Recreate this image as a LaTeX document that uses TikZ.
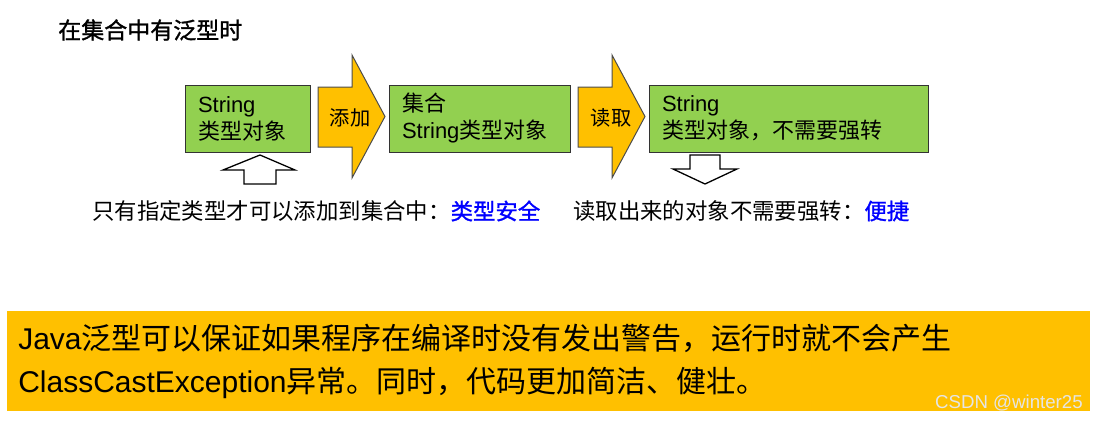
\documentclass[tikz,border=0pt]{standalone}
\usepackage{fontspec}
\setmainfont{Liberation Sans}
\newfontfamily\cjk{Noto Sans CJK SC}
\newfontfamily\cjkbold[FakeBold=1.2]{Noto Sans CJK SC}
\usepackage{xcolor}
\definecolor{boxgreen}{RGB}{146,208,80}
\definecolor{boxorange}{RGB}{255,192,0}
\definecolor{textblue}{RGB}{0,0,255}
\usepackage{tikz}
\usetikzlibrary{positioning, calc}

\newdimen\px
\px=0.75pt

\tikzset{
  typebox/.style={draw=black!80, line width=1\px, fill=boxgreen, inner sep=0pt,
    minimum height=67\px, align=left,
    font=\fontsize{16.5pt}{20.25pt}\selectfont},
  blockarrow/.style={draw=black!70, line width=1\px, fill=boxorange},
  hollowarrow/.style={draw=black, line width=1.3\px, fill=white},
  flowtext/.style={inner sep=0pt, font=\cjk\fontsize{15.2pt}{18pt}\selectfont},
  remark/.style={inner sep=0pt, anchor=west, font=\cjk\fontsize{16.8pt}{20pt}\selectfont}
}

\begin{document}
\begin{tikzpicture}[x=0.75pt, y=-0.75pt]
  \useasboundingbox (0,0) rectangle (1099,421);

  % Title
  \node[inner sep=0pt, anchor=west, font=\cjkbold\fontsize{17.25pt}{20pt}\selectfont]
    (title) at (58,30) {在集合中有泛型时};

  % Boxes
  \node[typebox, minimum width=125\px, text width=99\px]
    (obj) at (247.5,118.5) {String\\{\cjk 类型对象}};
  \node[typebox, minimum width=181\px, text width=155\px]
    (coll) at (479.5,118.5) {{\cjk 集合}\\String{\cjk 类型对象}};
  \node[typebox, minimum width=279\px, text width=253\px]
    (read) at (788.5,118.5) {String\\{\cjk 类型对象，不需要强转}};

  % Block arrows between the boxes
  \draw[blockarrow] (318,87) -- (352,87) -- (352,55) -- (385,116.5)
    -- (352,178) -- (352,147) -- (318,147) -- cycle;
  \node[flowtext] (add) at (350,118) {添加};

  \draw[blockarrow] (578,87) -- (612,87) -- (612,55) -- (645,116.5)
    -- (612,178) -- (612,147) -- (578,147) -- cycle;
  \node[flowtext] (get) at (611,118) {读取};

  % Hollow arrows
  \draw[hollowarrow] (244,184) -- (244,170) -- (223,170) -- (260,155)
    -- (295,170) -- (276,170) -- (276,184) -- cycle;
  \draw[hollowarrow] (690,155) -- (720,155) -- (720,169) -- (737,169)
    -- (705,184) -- (673,169) -- (690,169) -- cycle;

  % Remarks
  \node[remark] (safe) at (92,211)
    {只有指定类型才可以添加到集合中：\textcolor{textblue}{\cjkbold 类型安全}};
  \node[remark] (easy) at (573,211)
    {读取出来的对象不需要强转：\textcolor{textblue}{\cjkbold 便捷}};

  % Note
  \fill[boxorange] (7,311) rectangle (1090,411);
  \node[inner sep=0pt, anchor=west, align=left,
        font=\fontsize{22.5pt}{32.25pt}\selectfont]
    (note) at (18,361.5)
    {Java{\cjk 泛型可以保证如果程序在编译时没有发出警告，运行时就不会产生}\\
     ClassCastException{\cjk 异常。同时，代码更加简洁、健壮。}};

  \node[inner sep=0pt, anchor=east, text=black!10, font=\fontsize{14pt}{16pt}\selectfont]
    (mark) at (1083,403) {CSDN @winter25};

\end{tikzpicture}
\end{document}
